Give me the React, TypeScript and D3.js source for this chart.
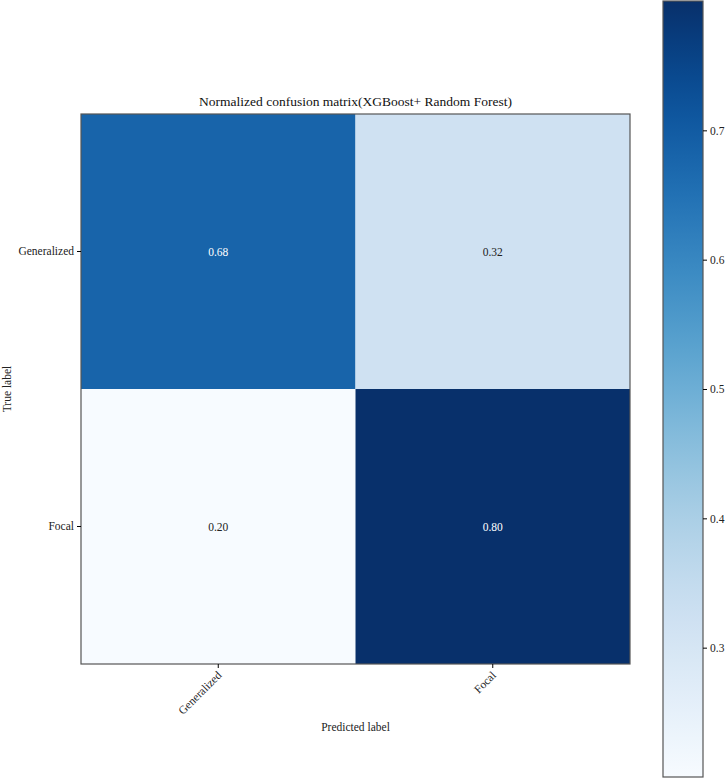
import { useEffect, useRef } from "react";
import * as d3 from "d3";

const trueLabels = ["Generalized", "Focal"];
const predLabels = ["Generalized", "Focal"];
const matrixValues = [
  [0.68, 0.32],
  [0.2, 0.8],
];
const colorbarTicks = [0.3, 0.4, 0.5, 0.6, 0.7];
const title = "Normalized confusion matrix(XGBoost+ Random Forest)";

const App = () => {
  const svgRef = useRef<SVGSVGElement>(null);

  useEffect(() => {
    const width = 726, height = 780;
    const font = "'Liberation Serif', 'DejaVu Serif', serif";
    const svg = d3.select(svgRef.current);
    svg.selectAll("*").remove();
    svg.attr("width", width).attr("height", height);

    const plot = { left: 81, right: 630, top: 114, bottom: 664 };
    const flat = matrixValues.flat();
    const vmin = d3.min(flat) as number, vmax = d3.max(flat) as number;
    const color = d3.scaleSequential(d3.interpolateBlues).domain([vmin, vmax]);

    const x = d3.scaleBand().domain(predLabels).range([plot.left, plot.right]);
    const y = d3.scaleBand().domain(trueLabels).range([plot.top, plot.bottom]);

    const cells = trueLabels.flatMap((t, i) =>
      predLabels.map((p, j) => ({ t, p, v: matrixValues[i][j] }))
    );

    const g = svg.append("g");
    g.selectAll("rect.cell")
      .data(cells)
      .enter()
      .append("rect")
      .attr("class", "cell")
      .attr("x", d => x(d.p)!)
      .attr("y", d => y(d.t)!)
      .attr("width", x.bandwidth())
      .attr("height", y.bandwidth())
      .attr("fill", d => color(d.v));

    const thresh = vmax / 2;
    g.selectAll("text.val")
      .data(cells)
      .enter()
      .append("text")
      .attr("x", d => x(d.p)! + x.bandwidth() / 2)
      .attr("y", d => y(d.t)! + y.bandwidth() / 2)
      .attr("text-anchor", "middle")
      .attr("dominant-baseline", "central")
      .attr("font-family", font)
      .attr("font-size", 11.5)
      .attr("fill", d => (d.v > thresh ? "white" : "#222"))
      .text(d => d.v.toFixed(2));

    g.append("rect")
      .attr("x", plot.left)
      .attr("y", plot.top)
      .attr("width", plot.right - plot.left)
      .attr("height", plot.bottom - plot.top)
      .attr("fill", "none")
      .attr("stroke", "#555")
      .attr("stroke-width", 1.2);

    // axes
    const xAxis = svg.append("g")
      .attr("font-family", font)
      .attr("transform", `translate(0,${plot.bottom})`)
      .call(d3.axisBottom(x).tickSize(4).tickSizeOuter(0));
    xAxis.select(".domain").remove();
    xAxis.selectAll("text")
      .attr("font-family", font)
      .attr("font-size", 11.5)
      .attr("fill", "#222")
      .attr("text-anchor", "end")
      .attr("dy", null)
      .attr("y", 0)
      .attr("transform", "translate(4,12) rotate(-45)");

    const yAxis = svg.append("g")
      .attr("font-family", font)
      .attr("transform", `translate(${plot.left},0)`)
      .call(d3.axisLeft(y).tickSize(4).tickSizeOuter(0));
    yAxis.select(".domain").remove();
    yAxis.selectAll("text")
      .attr("font-family", font)
      .attr("font-size", 11.5)
      .attr("fill", "#222");

    svg.append("text")
      .attr("x", (plot.left + plot.right) / 2)
      .attr("y", plot.top - 8)
      .attr("text-anchor", "middle")
      .attr("font-family", font)
      .attr("font-size", 13.5)
      .attr("fill", "#111")
      .text(title);

    svg.append("text")
      .attr("x", (plot.left + plot.right) / 2)
      .attr("y", 731)
      .attr("text-anchor", "middle")
      .attr("font-family", font)
      .attr("font-size", 11.5)
      .attr("fill", "#222")
      .text("Predicted label");

    svg.append("text")
      .attr("transform", `translate(11,${(plot.top + plot.bottom) / 2}) rotate(-90)`)
      .attr("text-anchor", "middle")
      .attr("font-family", font)
      .attr("font-size", 11.5)
      .attr("fill", "#222")
      .text("True label");

    // colorbar
    const cb = { left: 663, right: 703, top: 1, bottom: 777 };
    const cy = d3.scaleLinear().domain([vmin, vmax]).range([cb.bottom, cb.top]);
    const grad = svg.append("defs").append("linearGradient")
      .attr("id", "cbgrad")
      .attr("x1", 0).attr("y1", 1).attr("x2", 0).attr("y2", 0);
    d3.range(0, 1.0001, 0.05).forEach(t => {
      grad.append("stop")
        .attr("offset", t)
        .attr("stop-color", color(vmin + t * (vmax - vmin)));
    });
    svg.append("rect")
      .attr("x", cb.left)
      .attr("y", cb.top)
      .attr("width", cb.right - cb.left)
      .attr("height", cb.bottom - cb.top)
      .attr("fill", "url(#cbgrad)")
      .attr("stroke", "#555")
      .attr("stroke-width", 1.2);

    const cAxis = svg.append("g")
      .attr("font-family", font)
      .attr("transform", `translate(${cb.right},0)`)
      .call(d3.axisRight(cy).tickValues(colorbarTicks).tickFormat(d3.format(".1f")).tickSize(4));
    cAxis.select(".domain").remove();
    cAxis.selectAll("text")
      .attr("font-family", font)
      .attr("font-size", 11.5)
      .attr("fill", "#222");
  }, []);

  return <svg ref={svgRef} style={{ position: "absolute", left: 0, top: 0 }} />;
};

export default App;
